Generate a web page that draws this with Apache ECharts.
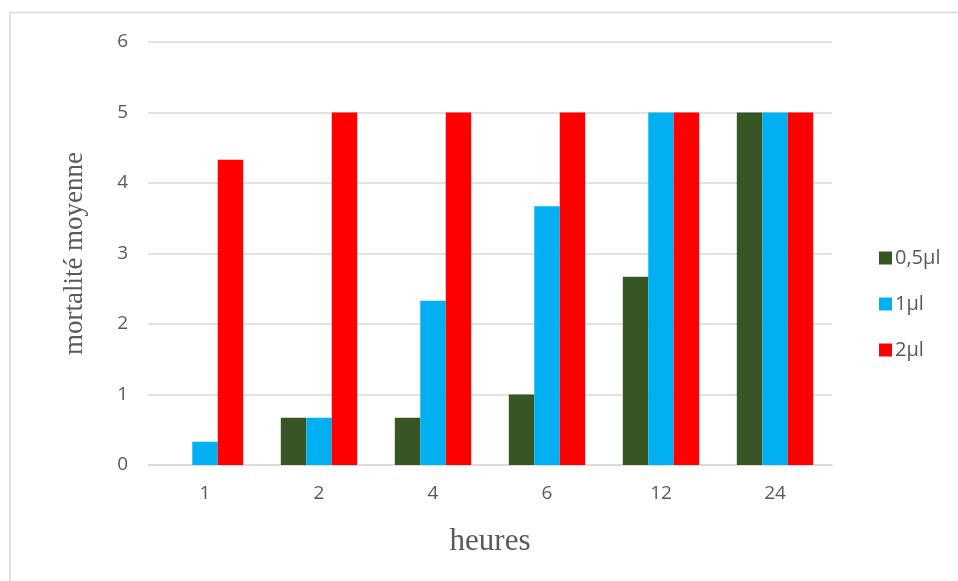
<!DOCTYPE html>
<html>
<head>
<meta charset="utf-8">
<script src="https://cdn.jsdelivr.net/npm/echarts@6/dist/echarts.min.js"></script>
<style>
  html, body { margin: 0; padding: 0; background: #fff; }
  #chart { width: 958px; height: 581px; }
</style>
</head>
<body>
<div id="chart"></div>
<script>
// Mean mortality per exposure time, for three doses
const categories = ['1', '2', '4', '6', '12', '24'];
const dose05 = [0, 0.67, 0.67, 1, 2.67, 5];
const dose1 = [0.33, 0.67, 2.33, 3.67, 5, 5];
const dose2 = [4.33, 5, 5, 5, 5, 5];
const seriesNames = ['0,5µl', '1µl', '2µl'];
const seriesColors = ['#375623', '#00B0F0', '#FF0000'];

const chart = echarts.init(document.getElementById('chart'));
const labelFont = '"Open Sans", "Liberation Sans", sans-serif';
const titleFont = '"Liberation Serif", "Times New Roman", serif';

chart.setOption({
  animation: false,
  backgroundColor: '#fff',
  graphic: [
    { type: 'line', shape: { x1: 10, y1: 12, x2: 10, y2: 581 }, style: { stroke: '#D9D9D9', lineWidth: 1.5 } },
    { type: 'line', shape: { x1: 10, y1: 12.5, x2: 958, y2: 12.5 }, style: { stroke: '#D9D9D9', lineWidth: 1.5 } }
  ],
  grid: { left: 148, right: 126, top: 42, bottom: 116, containLabel: false },
  legend: {
    orient: 'vertical',
    left: 874,
    top: 243,
    itemWidth: 13,
    itemHeight: 13,
    itemGap: 26,
    icon: 'rect',
    textStyle: { fontFamily: labelFont, fontSize: 20, color: '#595959', padding: [0, 0, 0, -2] },
    data: seriesNames
  },
  xAxis: {
    type: 'category',
    data: categories,
    name: 'heures',
    nameLocation: 'middle',
    nameGap: 61,
    nameTextStyle: { fontFamily: titleFont, fontSize: 31, color: '#595959' },
    axisLine: { lineStyle: { color: '#D9D9D9', width: 1.5 } },
    axisTick: { show: false },
    axisLabel: { fontFamily: labelFont, fontSize: 19, color: '#595959', margin: 19 }
  },
  yAxis: {
    type: 'value',
    min: 0,
    max: 6,
    interval: 1,
    name: 'mortalité moyenne',
    nameLocation: 'middle',
    nameGap: 60,
    nameTextStyle: { fontFamily: titleFont, fontSize: 27, color: '#595959' },
    axisLine: { show: false },
    axisTick: { show: false },
    splitLine: { lineStyle: { color: '#D9D9D9', width: 1.5 } },
    axisLabel: { fontFamily: labelFont, fontSize: 19, color: '#595959', margin: 20 }
  },
  series: [dose05, dose1, dose2].map((vals, i) => ({
    name: seriesNames[i],
    type: 'bar',
    data: vals,
    barGap: '0%',
    barCategoryGap: '33%',
    itemStyle: { color: seriesColors[i] }
  }))
});
</script>
</body>
</html>
